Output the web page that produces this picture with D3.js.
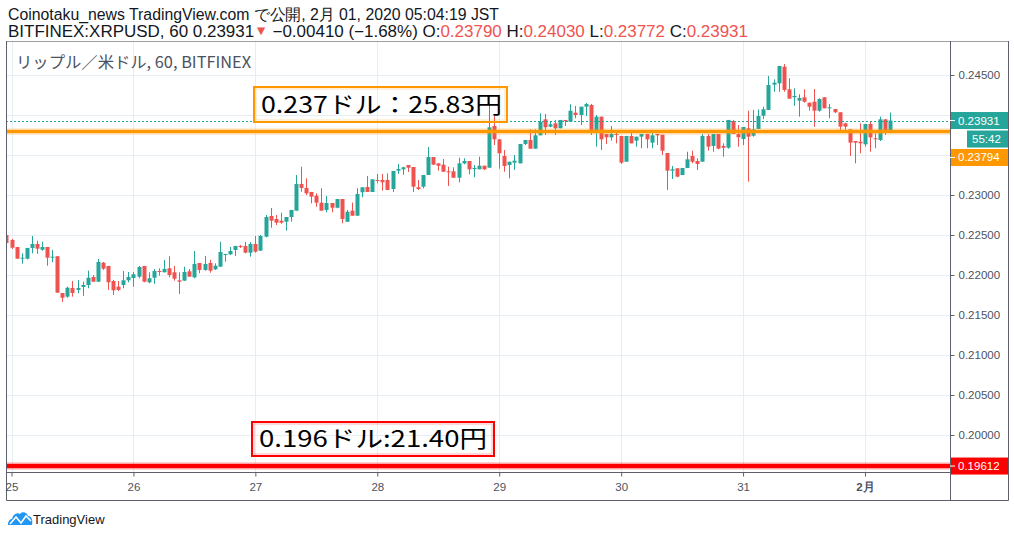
<!DOCTYPE html>
<meta charset="utf-8">
<html>
<head>
<style>
  body { margin: 0; background: #fff; }
  svg text { font-family: "Liberation Sans", Arial, sans-serif; }
  .jp { font-family: "Noto Sans CJK JP", "Noto Sans", sans-serif; }
</style>
</head>
<body>
<div id="chart"></div>
<script src="https://d3js.org/d3.v7.min.js"></script>
<script>
// XRPUSD 60 min candles, first bar 2020-01-24 23:00 JST
var firstBar = Date.UTC(2020, 0, 24, 23);

var open = [
  .22500, .22438, .22350, .22209, .22204, .22338, .22388, .22316, .22350, .22221, .22234, .21775,
  .21729, .21838, .21813, .21850, .21875, .21975, .21916, .22154, .22113, .21925, .21854, .21875,
  .21934, .21963, .21979, .22113, .21909, .21966, .22050, .22034, .22084, .22034, .21934, .21929,
  .22046, .21971, .22150, .22063, .22150, .22071, .22104, .22254, .22259, .22313, .22363, .22363,
  .22279, .22388, .22304, .22479, .22738, .22700, .22679, .22666, .22725, .22804, .23138, .23088,
  .23038, .22991, .22904, .22813, .22900, .22841, .22950, .22666, .22804, .22741, .23034, .23100,
  .23038, .23188, .23188, .23188, .23075, .23304, .23321, .23375, .23350, .23096, .23104, .23250,
  .23475, .23396, .23379, .23296, .23296, .23216, .23396, .23425, .23325, .23321, .23366, .23341,
  .23863, .23696, .23488, .23375, .23404, .23396, .23638, .23688, .23579, .23746, .23946, .23854,
  .23896, .23834, .23938, .23916, .24029, .24000, .24104, .24125, .23813, .23979, .23763, .23721,
  .23763, .23738, .23416, .23738, .23679, .23729, .23763, .23654, .23763, .23754, .23525, .23304,
  .23334, .23250, .23338, .23488, .23425, .23416, .23738, .23613, .23763, .23613, .23591, .23925,
  .23763, .23700, .23834, .23741, .23825, .23991, .24063, .24379, .24396, .24604, .24321, .24221,
  .24179, .24221, .24154, .24166, .24054, .24221, .24088, .24075, .24034, .23896, .23821, .23675,
  .23666, .23634, .23888, .23709, .23688, .23946, .23790
];
var high = [
  .22513, .22450, .22350, .22271, .22338, .22488, .22429, .22416, .22350, .22313, .22238, .21775,
  .21854, .21925, .21938, .21916, .22054, .22000, .22200, .22163, .22113, .21938, .21925, .22050,
  .22038, .22038, .22113, .22113, .22034, .22075, .22084, .22188, .22234, .22113, .22034, .22104,
  .22075, .22300, .22150, .22238, .22191, .22146, .22416, .22263, .22350, .22363, .22375, .22416,
  .22413, .22488, .22500, .22750, .22838, .22750, .22779, .22725, .22813, .23250, .23354, .23209,
  .23038, .23021, .23084, .22988, .22900, .22950, .22950, .22813, .22904, .23084, .23096, .23238,
  .23196, .23263, .23263, .23271, .23300, .23388, .23354, .23375, .23350, .23188, .23250, .23600,
  .23475, .23396, .23450, .23354, .23346, .23466, .23459, .23425, .23375, .23479, .23366, .24146,
  .23988, .23696, .23563, .23416, .23500, .23638, .23688, .23821, .23821, .24021, .24013, .23925,
  .23938, .23938, .23938, .24134, .24113, .24104, .24150, .24138, .24000, .23979, .23763, .23863,
  .23775, .23738, .23738, .23813, .23729, .23763, .23763, .23779, .23763, .23754, .23525, .23363,
  .23334, .23338, .23541, .23554, .23459, .23763, .23763, .23763, .23763, .23646, .23938, .23938,
  .23875, .23850, .24054, .24063, .24071, .24104, .24488, .24446, .24613, .24638, .24459, .24334,
  .24259, .24321, .24154, .24325, .24209, .24225, .24138, .24075, .24034, .23904, .23821, .23675,
  .23896, .23888, .23916, .23771, .23979, .23946, .24030
];
var low = [
  .22388, .22325, .22200, .22141, .22196, .22271, .22263, .22304, .22116, .22159, .21775, .21663,
  .21716, .21729, .21771, .21738, .21834, .21916, .21913, .22063, .21813, .21750, .21800, .21834,
  .21909, .21854, .21959, .21909, .21896, .21891, .21991, .22034, .21971, .21929, .21763, .21929,
  .21979, .21959, .22021, .22054, .22029, .22063, .22104, .22166, .22250, .22238, .22338, .22271,
  .22229, .22279, .22304, .22471, .22591, .22625, .22641, .22554, .22666, .22804, .23041, .23000,
  .22896, .22854, .22804, .22784, .22784, .22834, .22646, .22666, .22741, .22741, .22971, .23038,
  .23038, .23146, .23054, .23063, .23038, .23263, .23254, .23288, .23038, .23063, .23084, .23250,
  .23379, .23304, .23291, .23113, .23216, .23159, .23384, .23259, .23221, .23321, .23313, .23341,
  .23625, .23329, .23291, .23209, .23313, .23396, .23625, .23579, .23579, .23746, .23750, .23846,
  .23750, .23834, .23863, .23916, .23959, .23875, .23988, .23750, .23604, .23563, .23638, .23679,
  .23646, .23388, .23416, .23646, .23604, .23584, .23584, .23584, .23625, .23500, .23063, .23200,
  .23221, .23250, .23338, .23396, .23313, .23416, .23554, .23541, .23571, .23479, .23579, .23763,
  .23604, .23625, .23166, .23729, .23825, .23950, .24063, .24291, .24291, .24291, .24204, .24116,
  .23979, .24154, .24054, .23854, .24041, .24084, .23959, .24025, .23813, .23791, .23488, .23396,
  .23521, .23604, .23541, .23584, .23675, .23750, .23772
];
var close = [
  .22400, .22341, .22204, .22216, .22338, .22388, .22329, .22350, .22216, .22229, .21779, .21716,
  .21841, .21775, .21838, .21875, .21966, .21916, .22163, .22079, .21909, .21809, .21813, .21934,
  .21975, .22009, .22100, .21916, .21959, .22050, .22046, .22075, .22000, .21954, .21916, .22038,
  .21979, .22138, .22063, .22138, .22054, .22116, .22288, .22263, .22300, .22363, .22350, .22279,
  .22388, .22291, .22488, .22725, .22679, .22654, .22654, .22725, .22813, .23138, .23088, .23021,
  .22979, .22904, .22804, .22900, .22841, .22950, .22700, .22791, .22741, .23013, .23096, .23038,
  .23196, .23179, .23159, .23063, .23300, .23325, .23346, .23341, .23104, .23075, .23250, .23475,
  .23379, .23366, .23291, .23291, .23216, .23396, .23425, .23321, .23338, .23366, .23321, .23846,
  .23696, .23521, .23363, .23416, .23429, .23638, .23688, .23579, .23746, .23913, .23846, .23884,
  .23834, .23938, .23925, .24054, .24000, .24104, .24138, .23813, .23979, .23696, .23721, .23763,
  .23759, .23404, .23738, .23646, .23729, .23763, .23696, .23746, .23746, .23554, .23304, .23321,
  .23229, .23338, .23446, .23416, .23388, .23738, .23604, .23763, .23579, .23591, .23938, .23763,
  .23721, .23850, .23729, .23821, .23988, .24071, .24375, .24404, .24613, .24313, .24204, .24238,
  .24213, .24166, .24104, .24054, .24200, .24084, .24096, .24034, .23854, .23854, .23654, .23654,
  .23646, .23888, .23721, .23696, .23946, .23780, .23931
];

var priceTicks = [0.245, 0.240, 0.235, 0.230, 0.225, 0.220, 0.215, 0.210, 0.205, 0.200];
var lastPrice = 0.23931, countdown = "55:42";
var orangeLevel = 0.23794, redLevel = 0.19612;
var orangeNote = "0.237ドル：25.83円", redNote = "0.196ドル:21.40円";
var title = "Coinotaku_news TradingView.com で公開, 2月 01, 2020 05:04:19 JST";
var symbolLine = "BITFINEX:XRPUSD, 60 0.23931";
var changeText = " \u22120.00410 (\u22121.68%) ";
var ohlcLabels = ["O:", "H:", "L:", "C:"], ohlcValues = ["0.23790", "0.24030", "0.23772", "0.23931"];
var legendText = "リップル／米ドル, 60, BITFINEX";

var up = "#26a69a", down = "#ef5350", grid = "#e6eef3", frame = "#5d606b", axisText = "#4c525e";

var W = 1014, H = 537;
var pane = {left: 6, right: 950, top: 41, bottom: 472};
var outerRight = 1008, timeBottom = 500;

var svg = d3.select("#chart").append("svg")
    .attr("width", W).attr("height", H)
    .style("display", "block");

var bars = open.map(function(o, i) {
  return {t: new Date(firstBar + i * 3600e3), o: o, h: high[i], l: low[i], c: close[i]};
});

var x = d3.scaleUtc()
    .domain([Date.UTC(2020, 0, 25), Date.UTC(2020, 1, 1)])
    .range([11.5, 865]);
var y = d3.scaleLinear()
    .domain([0.245, 0.200])
    .range([75, 435]);

// grid
var days = d3.utcDay.range(Date.UTC(2020, 0, 25), Date.UTC(2020, 1, 2));
svg.append("g").selectAll("line").data(days).join("line")
    .attr("x1", function(d) { return Math.round(x(d)) + 0.5; })
    .attr("x2", function(d) { return Math.round(x(d)) + 0.5; })
    .attr("y1", pane.top).attr("y2", pane.bottom)
    .attr("stroke", grid);
svg.append("g").selectAll("line").data(priceTicks).join("line")
    .attr("x1", pane.left).attr("x2", pane.right)
    .attr("y1", function(d) { return Math.round(y(d)) + 0.5; })
    .attr("y2", function(d) { return Math.round(y(d)) + 0.5; })
    .attr("stroke", grid);

// legend
svg.append("text").attr("class", "jp")
    .attr("x", 16).attr("y", 68)
    .attr("font-size", 16).attr("fill", axisText)
    .attr("textLength", 235).attr("lengthAdjust", "spacingAndGlyphs")
    .text(legendText);

// candles
svg.append("clipPath").attr("id", "paneClip").append("rect")
    .attr("x", pane.left + 1).attr("y", pane.top)
    .attr("width", pane.right - pane.left - 1).attr("height", pane.bottom - pane.top);

var cg = svg.append("g").attr("clip-path", "url(#paneClip)");
var bw = 4;
var candle = cg.selectAll("g").data(bars).join("g");
candle.append("line")
    .attr("x1", function(d) { return Math.round(x(d.t)) + 0.5; })
    .attr("x2", function(d) { return Math.round(x(d.t)) + 0.5; })
    .attr("y1", function(d) { return y(d.h); })
    .attr("y2", function(d) { return y(d.l); })
    .attr("stroke", function(d) { return d.c >= d.o ? up : down; });
candle.append("rect")
    .attr("x", function(d) { return Math.round(x(d.t)) - bw / 2 + 0.5; })
    .attr("width", bw)
    .attr("y", function(d) { return y(Math.max(d.o, d.c)); })
    .attr("height", function(d) { return Math.max(1, Math.abs(y(d.o) - y(d.c))); })
    .attr("fill", function(d) { return d.c >= d.o ? up : down; });

// horizontal levels
function level(v, col, core) {
  svg.append("line").attr("x1", pane.left).attr("x2", pane.right)
      .attr("y1", y(v)).attr("y2", y(v))
      .attr("stroke", col).attr("stroke-width", core + 3).attr("opacity", 0.35);
  svg.append("line").attr("x1", pane.left).attr("x2", pane.right)
      .attr("y1", y(v)).attr("y2", y(v))
      .attr("stroke", col).attr("stroke-width", core);
}
level(orangeLevel, "#ff9800", 3);
level(redLevel, "#ff0000", 4);

svg.append("line")
    .attr("x1", pane.left).attr("x2", pane.right)
    .attr("y1", Math.round(y(lastPrice)) + 0.5).attr("y2", Math.round(y(lastPrice)) + 0.5)
    .attr("stroke", up).attr("stroke-dasharray", "2,2");

// note boxes
function note(txt, col, bx, by, bwid, bh, len) {
  svg.append("rect").attr("x", bx).attr("y", by).attr("width", bwid).attr("height", bh)
      .attr("fill", "none").attr("stroke", col).attr("stroke-width", 2);
  svg.append("rect").attr("x", bx + 2).attr("y", by + 2).attr("width", bwid - 4).attr("height", bh - 4)
      .attr("fill", "none").attr("stroke", col).attr("stroke-width", 1).attr("opacity", 0.3);
  svg.append("text").attr("class", "jp")
      .attr("x", bx + 7).attr("y", by + bh - 9)
      .attr("font-size", 23).attr("fill", "#000")
      .attr("textLength", len).attr("lengthAdjust", "spacingAndGlyphs")
      .text(txt);
}
note(orangeNote, "#ff9800", 254, 87, 253, 35, 241);
note(redNote, "#ff0000", 252, 422, 242, 34, 228);

// frame
svg.append("path")
    .attr("d", "M" + (pane.left + 0.5) + "," + pane.top + "V" + (timeBottom + 0.5) + "H" + (outerRight + 0.5) + "V" + pane.top)
    .attr("fill", "none").attr("stroke", frame);
svg.append("line").attr("x1", pane.left).attr("x2", outerRight + 1)
    .attr("y1", pane.top + 0.5).attr("y2", pane.top + 0.5).attr("stroke", frame).attr("opacity", 0.6);
svg.append("line").attr("x1", pane.left).attr("x2", pane.right)
    .attr("y1", pane.bottom + 0.5).attr("y2", pane.bottom + 0.5).attr("stroke", frame);
svg.append("line").attr("x1", pane.right + 0.5).attr("x2", pane.right + 0.5)
    .attr("y1", pane.top).attr("y2", timeBottom).attr("stroke", frame);

// price labels shown on the axis; tick labels underneath them are hidden
var tags = [
  {v: lastPrice, col: up, yc: y(lastPrice), txt: d3.format(".5f")(lastPrice), x0: pane.right + 1},
  {v: lastPrice, col: up, yc: y(lastPrice) + 18.5, txt: countdown, x0: 967},
  {v: orangeLevel, col: "#ff9800", yc: y(orangeLevel) + 26, txt: d3.format(".5f")(orangeLevel), x0: pane.right + 1},
  {v: redLevel, col: "#ff0000", yc: y(redLevel), txt: d3.format(".5f")(redLevel), x0: pane.right + 1}
];

// price axis
var yAxis = svg.append("g")
    .attr("transform", "translate(" + (pane.right + 0.5) + ",0)")
    .call(d3.axisRight(y).tickValues(priceTicks).tickSize(4).tickPadding(4)
      .tickFormat(d3.format(".5f")));
yAxis.select(".domain").remove();
yAxis.selectAll("line").attr("stroke", frame);
yAxis.selectAll("text").attr("fill", axisText).attr("font-size", 11.5)
    .attr("font-family", "Liberation Sans, Arial, sans-serif");
yAxis.selectAll(".tick")
    .filter(function(d) { return tags.some(function(t) { return Math.abs(t.yc - y(d)) < 12; }); })
    .remove();

// time axis
var xAxis = svg.append("g")
    .attr("transform", "translate(0," + (pane.bottom + 0.5) + ")")
    .call(d3.axisBottom(x).tickValues(days).tickSize(4).tickPadding(6)
      .tickFormat(function(d) { return d.getUTCDate() === 1 ? (d.getUTCMonth() + 1) + "月" : d.getUTCDate(); }));
xAxis.select(".domain").remove();
xAxis.selectAll("line").attr("stroke", frame);
xAxis.selectAll("text").attr("fill", axisText).attr("font-size", 11.5)
    .attr("font-family", "Liberation Sans, Noto Sans CJK JP, sans-serif")
    .attr("font-weight", function(d) { return d.getUTCDate() === 1 ? "bold" : null; });

tags.forEach(function(t) {
  svg.append("rect").attr("x", t.x0).attr("y", t.yc - 8.5).attr("width", outerRight - t.x0).attr("height", 17)
      .attr("fill", t.col);
  if (t.x0 === pane.right + 1) {
    svg.append("line").attr("x1", pane.right).attr("x2", pane.right + 5)
        .attr("y1", t.yc).attr("y2", t.yc).attr("stroke", "#fff");
  }
  svg.append("text").attr("x", t.x0 === pane.right + 1 ? 958 : 972).attr("y", t.yc + 4)
      .attr("font-size", 11.5).attr("fill", "#fff").text(t.txt);
});

// header
var hd = svg.append("g").attr("class", "jp").attr("font-size", 16).attr("fill", "#131722");
hd.append("text").attr("x", 8).attr("y", 20)
    .attr("textLength", 491).attr("lengthAdjust", "spacingAndGlyphs")
    .text(title);
var l2 = hd.append("text").attr("x", 8).attr("y", 37)
    .attr("textLength", 740).attr("lengthAdjust", "spacingAndGlyphs");
l2.append("tspan").text(symbolLine);
l2.append("tspan").attr("fill", down).attr("font-size", 13).attr("dy", -2).text("\u25BC");
l2.append("tspan").attr("dy", 2).text(changeText);
ohlcLabels.forEach(function(lab, i) {
  l2.append("tspan").text(lab);
  l2.append("tspan").attr("fill", down).text(ohlcValues[i] + (i < 3 ? " " : ""));
});

// footer logo
var logo = svg.append("g").attr("transform", "translate(8,511)");
logo.append("path")
    .attr("d", "M0,14 C0,10 2,8 4,8 C5,3 9,1 12,3 C14,0 19,1 20,5 C24,5 25,10 24,14 Z")
    .attr("fill", "#2196f3");
logo.append("polyline")
    .attr("points", "2,13 8,6 13,12 18,5 23,10")
    .attr("fill", "none").attr("stroke", "#fff").attr("stroke-width", 1.6);
svg.append("text").attr("x", 33).attr("y", 524)
    .attr("font-size", 13).attr("fill", "#131722")
    .attr("font-family", "Liberation Sans Narrow, Liberation Sans, sans-serif")
    .text("TradingView");
</script>
</body>
</html>
